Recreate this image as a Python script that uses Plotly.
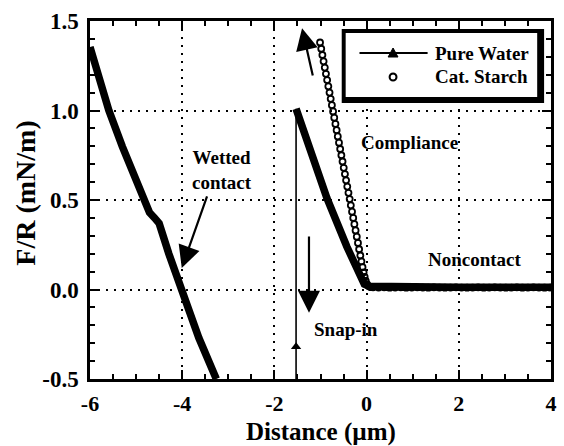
import plotly.graph_objects as go

FONT = "Liberation Serif"

# Pure water: wetted-contact branch (left)
water_wet_x = [-6.00, -5.80, -5.59, -5.30, -4.97, -4.86, -4.71, -4.60, -4.50, -4.29, -4.00, -3.64, -3.26]
water_wet_y = [1.355, 1.18, 1.00, 0.80, 0.59, 0.50, 0.43, 0.40, 0.37, 0.20, 0.00, -0.27, -0.50]

# Pure water: compliance + noncontact branch
water_cmp_x = [-1.53, -1.25, -0.86, -0.43, -0.12, -0.05, 0.05, 0.50, 1.00, 2.00, 3.00, 4.00]
water_cmp_y = [1.01, 0.80, 0.51, 0.24, 0.06, 0.03, 0.018, 0.015, 0.015, 0.013, 0.013, 0.013]

# Pure water: snap-in jump
water_snap_x = [-1.53, -1.53]
water_snap_y = [-0.50, 1.01]
snap_mark_x = [-1.53]
snap_mark_y = [-0.32]

# Cationic starch
starch_x = [-1.010, -0.984, -0.959, -0.933, -0.907, -0.882, -0.856, -0.830, -0.804, -0.779,
            -0.753, -0.727, -0.702, -0.676, -0.650, -0.625, -0.599, -0.573, -0.547, -0.522,
            -0.496, -0.470, -0.445, -0.419, -0.393, -0.367, -0.342, -0.316, -0.290, -0.265,
            -0.239, -0.213, -0.187, -0.162, -0.136, -0.112, -0.088, -0.065, -0.042, -0.018,
            0.010, 0.045, 0.090,
            0.14, 0.26, 0.38, 0.50, 0.62, 0.74, 0.86, 0.98, 1.10, 1.22, 1.34, 1.46, 1.58,
            1.70, 1.82, 1.94, 2.06, 2.18, 2.30, 2.42, 2.54, 2.66, 2.78, 2.90, 3.02, 3.14,
            3.26, 3.38, 3.50, 3.62, 3.74, 3.86, 3.98]
starch_y = [1.380, 1.345, 1.310, 1.275, 1.240, 1.205, 1.170, 1.135, 1.100, 1.065,
            1.030, 0.995, 0.960, 0.925, 0.890, 0.855, 0.820, 0.785, 0.750, 0.715,
            0.680, 0.645, 0.610, 0.575, 0.540, 0.505, 0.470, 0.435, 0.400, 0.365,
            0.330, 0.295, 0.260, 0.225, 0.190, 0.157, 0.125, 0.096, 0.070, 0.048,
            0.030, 0.019, 0.013,
            0.012, 0.011, 0.012, 0.010, 0.011, 0.012, 0.010, 0.011, 0.012, 0.011, 0.010, 0.012, 0.011,
            0.010, 0.011, 0.012, 0.011, 0.010, 0.011, 0.012, 0.010, 0.011, 0.012, 0.011, 0.010,
            0.011, 0.012, 0.010, 0.011, 0.012, 0.011, 0.010, 0.011]

x_ticks = [-6, -4, -2, 0, 2, 4]
y_ticks = [-0.5, 0.0, 0.5, 1.0, 1.5]
y_tick_text = ["-0.5", "0.0", "0.5", "1.0", "1.5"]
series_names = ["Pure Water", "Cat. Starch"]

# figure geometry (pixels)
W, H = 564, 446
ML, MR, MT, MB = 90, 7, 21, 67
PW, PH = W - ML - MR, H - MT - MB


def px(xpix):
    return (xpix - ML) / PW


def py(ypix):
    return (H - MB - ypix) / PH


fig = go.Figure()

fig.add_trace(go.Scatter(
    x=starch_x, y=starch_y, mode="markers", name=series_names[1], showlegend=False,
    marker=dict(symbol="circle-open", size=6, color="black", line=dict(width=1.8, color="black")),
))
fig.add_trace(go.Scatter(
    x=water_wet_x, y=water_wet_y, mode="lines", name=series_names[0], showlegend=False,
    line=dict(color="black", width=7.5),
))
fig.add_trace(go.Scatter(
    x=water_cmp_x, y=water_cmp_y, mode="lines", name=series_names[0], showlegend=False,
    line=dict(color="black", width=7.5),
))
fig.add_trace(go.Scatter(
    x=water_snap_x, y=water_snap_y, mode="lines", name=series_names[0], showlegend=False,
    line=dict(color="black", width=1.6),
))
fig.add_trace(go.Scatter(
    x=snap_mark_x, y=snap_mark_y, mode="markers", name=series_names[0], showlegend=False,
    marker=dict(symbol="triangle-up", size=9, color="black"),
))

axis_common = dict(
    showline=True, linecolor="black", linewidth=2.5, mirror="allticks",
    ticks="inside", ticklen=9, tickwidth=2, tickcolor="black",
    showgrid=True, gridcolor="black", gridwidth=2, griddash="2px,6px",
    zeroline=False,
)

fig.update_xaxes(
    range=[-6, 4], tickvals=x_ticks, ticktext=[str(v) for v in x_ticks],
    minor=dict(dtick=0.5, ticks="inside", ticklen=5, tickwidth=2, tickcolor="black", showgrid=False),
    ticklabelstandoff=3,
    tickfont=dict(family=FONT, size=22, color="black", weight="bold"),
    **axis_common,
)
fig.update_yaxes(
    range=[-0.5, 1.5], tickvals=y_ticks, ticktext=y_tick_text,
    minor=dict(dtick=0.1, ticks="inside", ticklen=5, tickwidth=2, tickcolor="black", showgrid=False),
    ticklabelstandoff=4,
    tickfont=dict(family=FONT, size=23, color="black", weight="bold"),
    **axis_common,
)

ann_font = dict(family=FONT, size=19, color="black", weight="bold")
xtitle_font = dict(family=FONT, size=25, color="black", weight="bold")
ytitle_font = dict(family=FONT, size=28, color="black", weight="bold")
legend_font = dict(family=FONT, size=19, color="black", weight="bold")

annotations = [
    dict(x=0.5, y=py(432), xref="paper", yref="paper", text="Distance (\u00b5m)",
         showarrow=False, font=xtitle_font, xanchor="center", yanchor="middle"),
    dict(x=px(25), y=0.52, xref="paper", yref="paper", text="F/R (mN/m)", textangle=-90,
         showarrow=False, font=ytitle_font, xanchor="center", yanchor="middle"),
    dict(x=-3.13, y=0.67, text="Wetted<br>contact", showarrow=False, font=ann_font),
    dict(x=0.92, y=0.82, text="Compliance", showarrow=False, font=ann_font),
    dict(x=2.35, y=0.17, text="Noncontact", showarrow=False, font=ann_font),
    dict(x=-0.45, y=-0.225, text="Snap-in", showarrow=False, font=ann_font),
]

# arrows: (tail_x, tail_y, tip_x, tip_y)
arrows = [(-3.45, 0.528, -4.01, 0.12), (-1.16, 1.187, -1.40, 1.46), (-1.25, 0.304, -1.25, -0.13)]
for tx, ty, hx, hy in arrows:
    annotations.append(dict(
        x=hx, y=hy, ax=tx, ay=ty, xref="x", yref="y", axref="x", ayref="y",
        text="", showarrow=True, arrowhead=2, arrowsize=2.0, arrowwidth=2.2, arrowcolor="black",
    ))

# legend box with drop shadow, sample line + symbols, labels
row_y = [53, 77]
for name, ry in zip(series_names, row_y):
    annotations.append(dict(
        x=px(437), y=py(ry), xref="paper", yref="paper", text=name, showarrow=False,
        font=legend_font, xanchor="left", yanchor="middle",
    ))

shapes = [
    dict(type="rect", xref="paper", yref="paper", x0=px(345), x1=px(550), y0=py(103), y1=py(29),
         fillcolor="black", line=dict(width=0), layer="above"),
    dict(type="rect", xref="paper", yref="paper", x0=px(349), x1=px(543), y0=py(97), y1=py(33),
         fillcolor="white", line=dict(width=0), layer="above"),
    dict(type="line", xref="paper", yref="paper", x0=px(363), x1=px(432), y0=py(row_y[0]), y1=py(row_y[0]),
         line=dict(color="black", width=2), layer="above"),
    dict(type="path", xref="paper", yref="paper",
         path=f"M{px(392)},{py(row_y[0] + 4)} L{px(402)},{py(row_y[0] + 4)} L{px(397)},{py(row_y[0] - 5)} Z",
         fillcolor="black", line=dict(color="black", width=1), layer="above"),
    dict(type="circle", xref="paper", yref="paper", x0=px(393.5), x1=px(400.5),
         y0=py(row_y[1] + 3.5), y1=py(row_y[1] - 3.5),
         fillcolor="white", line=dict(color="black", width=2), layer="above"),
]

fig.update_layout(
    width=W, height=H,
    margin=dict(l=ML, r=MR, t=MT, b=MB),
    paper_bgcolor="white", plot_bgcolor="white",
    annotations=annotations,
    shapes=shapes,
    showlegend=False,
)

fig.write_html("out.html")
